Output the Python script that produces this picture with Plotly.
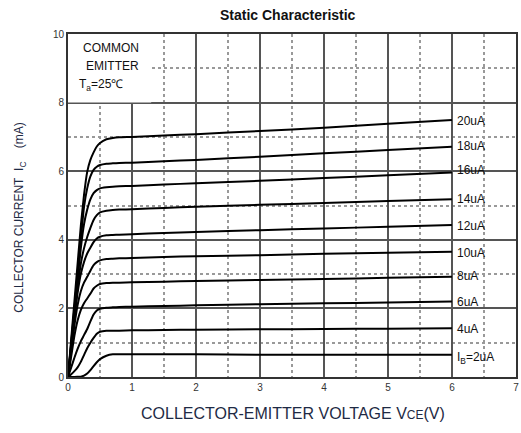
import plotly.graph_objects as go

vce = [0, 0.05, 0.1, 0.15, 0.2, 0.25, 0.3, 0.35, 0.4, 0.45, 0.5, 0.6, 0.7, 0.8, 1.0, 1.5, 2, 3, 4, 5, 6]

ic_20 = [0, 1.1, 2.2, 3.3, 4.4, 5.3, 5.98, 6.33, 6.55, 6.72, 6.82, 6.93, 6.97, 6.99, 7.0, 7.04, 7.08, 7.17, 7.27, 7.38, 7.49]
ic_18 = [0, 1.0, 2.0, 3.0, 4.0, 4.95, 5.5, 5.85, 6.04, 6.13, 6.18, 6.22, 6.23, 6.24, 6.25, 6.29, 6.33, 6.42, 6.52, 6.62, 6.71]
ic_16 = [0, 0.95, 1.9, 2.85, 3.75, 4.45, 4.88, 5.18, 5.36, 5.45, 5.5, 5.53, 5.55, 5.56, 5.57, 5.61, 5.65, 5.72, 5.8, 5.88, 5.96]
ic_14 = [0, 0.9, 1.8, 2.6, 3.3, 3.75, 4.08, 4.35, 4.58, 4.72, 4.8, 4.85, 4.87, 4.88, 4.89, 4.93, 4.96, 5.02, 5.07, 5.13, 5.18]
ic_12 = [0, 0.85, 1.7, 2.45, 3.0, 3.35, 3.6, 3.77, 3.93, 4.04, 4.09, 4.13, 4.14, 4.15, 4.16, 4.2, 4.23, 4.28, 4.33, 4.38, 4.43]
ic_10 = [0, 0.75, 1.5, 2.1, 2.5, 2.75, 2.92, 3.1, 3.26, 3.35, 3.4, 3.44, 3.45, 3.46, 3.47, 3.5, 3.52, 3.55, 3.59, 3.62, 3.65]
ic_8 = [0, 0.6, 1.2, 1.65, 1.95, 2.15, 2.29, 2.43, 2.58, 2.66, 2.71, 2.74, 2.75, 2.75, 2.76, 2.78, 2.8, 2.83, 2.86, 2.89, 2.92]
ic_6 = [0, 0.28, 0.56, 0.82, 1.04, 1.22, 1.4, 1.62, 1.82, 1.94, 1.99, 2.02, 2.03, 2.04, 2.05, 2.07, 2.09, 2.12, 2.15, 2.17, 2.2]
ic_4 = [0, 0.08, 0.17, 0.28, 0.44, 0.64, 0.84, 1.0, 1.14, 1.26, 1.32, 1.35, 1.35, 1.35, 1.36, 1.37, 1.38, 1.39, 1.4, 1.41, 1.42]
ic_2 = [0, 0, 0, 0.005, 0.01, 0.04, 0.1, 0.2, 0.32, 0.43, 0.52, 0.62, 0.66, 0.66, 0.66, 0.66, 0.66, 0.65, 0.65, 0.65, 0.65]

series = [ic_20, ic_18, ic_16, ic_14, ic_12, ic_10, ic_8, ic_6, ic_4, ic_2]
labels = ["20uA", "18uA", "16uA", "14uA", "12uA", "10uA", "8uA", "6uA", "4uA", "I<sub>B</sub>=2uA"]
label_y = [7.47, 6.74, 6.03, 5.19, 4.41, 3.61, 2.95, 2.20, 1.39, 0.54]

x_ticks = [0, 1, 2, 3, 4, 5, 6, 7]
y_ticks = [0, 2, 4, 6, 8, 10]

FONT = "Liberation Sans, Arial"

fig = go.Figure()
for ys in series:
    fig.add_trace(go.Scatter(x=vce, y=ys, mode="lines",
                             line=dict(color="black", width=2, shape="spline", smoothing=0.5),
                             showlegend=False, hoverinfo="skip"))

for lab, ly in zip(labels, label_y):
    fig.add_annotation(x=6.04, y=ly, text=lab, showarrow=False, xanchor="left", yanchor="middle",
                       font=dict(family=FONT, size=12, color="#111"))

# white box for conditions
fig.add_shape(type="rect", x0=0, x1=1.3, y0=8, y1=10, xref="x", yref="y",
              fillcolor="white", line=dict(width=0), layer="between")
fig.add_annotation(x=0.67, y=9.6, text="COMMON", showarrow=False, xanchor="center",
                   font=dict(family=FONT, size=12, color="#111"))
fig.add_annotation(x=0.7, y=9.07, text="EMITTER", showarrow=False, xanchor="center",
                   font=dict(family=FONT, size=12, color="#111"))
fig.add_annotation(x=0.14, y=8.5, text="T<sub>a</sub>=25℃", showarrow=False, xanchor="left",
                   font=dict(family=FONT, size=12, color="#111"))

fig.add_annotation(x=0.49, y=1.055, xref="paper", yref="paper", text="<b>Static Characteristic</b>",
                   showarrow=False, yanchor="middle", font=dict(family=FONT, size=14, color="#111"))
fig.add_annotation(x=0.503, y=-0.105, xref="paper", yref="paper", yanchor="middle",
                   text="COLLECTOR-EMITTER VOLTAGE V<span style='font-size:12px'>CE</span>(V)",
                   showarrow=False, font=dict(family=FONT, size=16, color="#1e2a44"))
fig.add_annotation(x=-0.106, y=0.466, xref="paper", yref="paper", textangle=-90,
                   xanchor="center", yanchor="middle",
                   text="COLLECTOR CURRENT&nbsp;&nbsp;I<sub>C</sub>&nbsp;&nbsp;&nbsp;&nbsp;(mA)",
                   showarrow=False, font=dict(family=FONT, size=12, color="#1e2a44"))

fig.update_xaxes(range=[0, 7.001], tickvals=x_ticks, ticktext=[str(v) for v in x_ticks],
                 showgrid=True, gridcolor="#555", gridwidth=1.5,
                 minor=dict(dtick=0.5, showgrid=True, gridcolor="#999", griddash="dot", gridwidth=1.5),
                 showline=True, linecolor="#333", linewidth=2, mirror=True, zeroline=False,
                 ticks="", ticklabeloverflow="allow",
                 tickfont=dict(family=FONT, size=10, color="#333"))
fig.update_yaxes(range=[0, 10], tickvals=y_ticks, ticktext=[str(v) for v in y_ticks],
                 showgrid=True, gridcolor="#555", gridwidth=1.5,
                 minor=dict(dtick=1, showgrid=True, gridcolor="#999", griddash="dot", gridwidth=1.5),
                 showline=True, linecolor="#333", linewidth=2, mirror=True, zeroline=False,
                 ticks="", tickfont=dict(family=FONT, size=10, color="#333"))

fig.update_layout(width=521, height=433, margin=dict(l=68, r=2, t=34, b=56),
                  plot_bgcolor="white", paper_bgcolor="white")

# remove the default page margin so the figure fills the window exactly
fig.write_html("out.html", config={"displayModeBar": False},
               post_script="document.body.style.margin='0';document.body.style.overflow='hidden';")
